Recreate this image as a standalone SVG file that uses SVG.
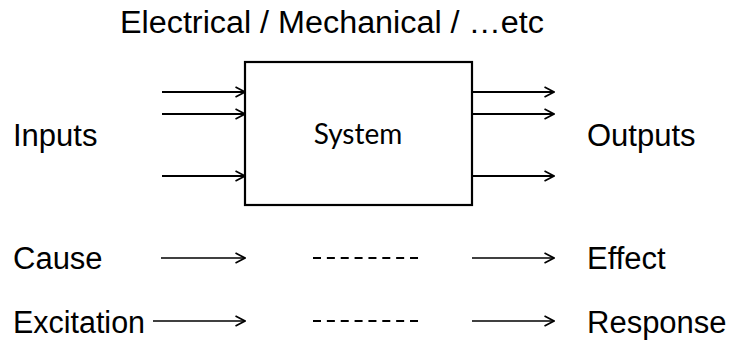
<svg xmlns="http://www.w3.org/2000/svg" width="734" height="357" viewBox="0 0 734 357">
<defs>
<marker id="ah" viewBox="0 0 12 12" refX="11" refY="6" markerWidth="12" markerHeight="12" markerUnits="userSpaceOnUse" orient="auto">
<path d="M1.5,1 L11,6 L1.5,11" fill="none" stroke="#000" stroke-width="1.7"/>
</marker>
<style>
.t{font-family:"Liberation Sans",Arial,sans-serif;font-size:31px;fill:#000}
.s{font-family:Lato,"Open Sans",sans-serif;font-size:28px;fill:#000}
.a{stroke:#000;stroke-width:2;fill:none;marker-end:url(#ah)}
.b{stroke:#000;stroke-width:1.7;fill:none;marker-end:url(#ah)}
.d{stroke:#000;stroke-width:2;fill:none;stroke-dasharray:8 5.86}
</style>
</defs>
<rect width="734" height="357" fill="#fff"/>
<g id="title"><text class="t" x="120" y="33" textLength="424" lengthAdjust="spacingAndGlyphs">Electrical / Mechanical / …etc</text></g>
<g id="system"><rect x="245" y="62" width="227" height="143" fill="#fff" stroke="#000" stroke-width="2.2"/><text class="s" x="358" y="144" text-anchor="middle">System</text></g>
<g id="inputs"><text class="t" x="13" y="146">Inputs</text></g>
<g id="outputs"><text class="t" x="587" y="146">Outputs</text></g>
<g id="cause"><text class="t" x="13" y="269">Cause</text></g>
<g id="effect"><text class="t" x="587" y="269">Effect</text></g>
<g id="excitation"><text class="t" x="13" y="333" textLength="132" lengthAdjust="spacingAndGlyphs">Excitation</text></g>
<g id="response"><text class="t" x="587" y="333">Response</text></g>
<g id="connectors">
<line class="a" x1="162" y1="92" x2="245" y2="92"/>
<line class="a" x1="162" y1="114" x2="245" y2="114"/>
<line class="a" x1="162" y1="176" x2="245" y2="176"/>
<line class="a" x1="473" y1="92" x2="554" y2="92"/>
<line class="a" x1="473" y1="114" x2="554" y2="114"/>
<line class="a" x1="473" y1="176" x2="554" y2="176"/>
<line class="b" x1="161" y1="258" x2="245" y2="258"/>
<line class="d" x1="313" y1="258" x2="419" y2="258"/>
<line class="b" x1="472" y1="258" x2="554" y2="258"/>
<line class="b" x1="153" y1="321" x2="245" y2="321"/>
<line class="d" x1="313" y1="321" x2="419" y2="321"/>
<line class="b" x1="472" y1="321" x2="554" y2="321"/>
</g>
</svg>
